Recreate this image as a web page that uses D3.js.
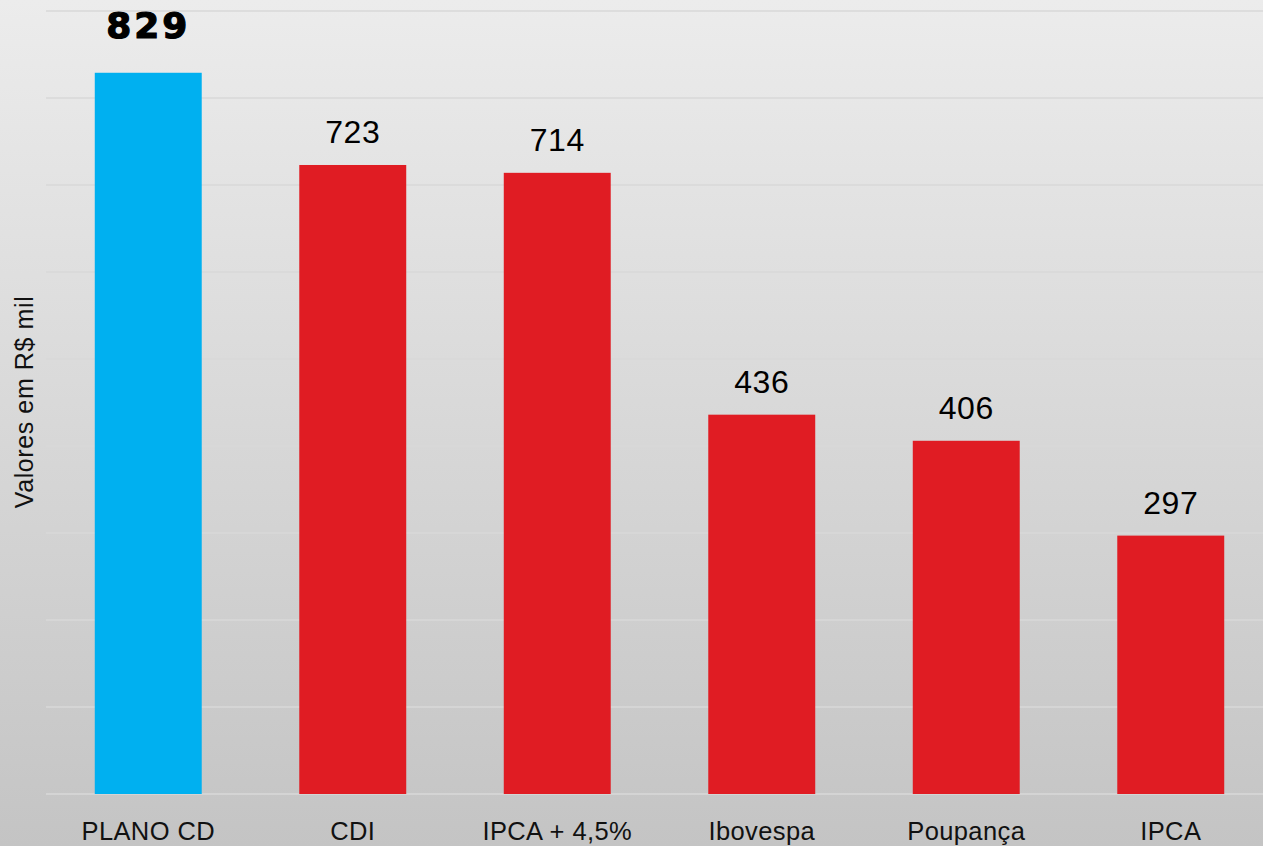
<!DOCTYPE html>
<html>
<head>
<meta charset="utf-8">
<script src="https://cdn.jsdelivr.net/npm/d3@7"></script>
<style>
  html, body { margin: 0; padding: 0; background: #e6e6e6; }
  svg { display: block; font-family: "Liberation Sans", Arial, sans-serif; }
</style>
</head>
<body>
<div id="chart"></div>
<script>
// data
var categories = ['PLANO CD', 'CDI', 'IPCA + 4,5%', 'Ibovespa', 'Poupança', 'IPCA'];
var values = [829, 723, 714, 436, 406, 297];
var highlight = ['PLANO CD'];
var yTicks = [0, 100, 200, 300, 400, 500, 600, 700, 800, 900];
var axisTitle = 'Valores em R$ mil';

var w = 1263,
    h = 846;

var margin = { top: 11, right: -10, bottom: 52, left: 46 };

var data = categories.map(function(c, i) {
    return { name: c, value: values[i] };
});

function isHighlight(d) {
    return highlight.indexOf(d.name) >= 0;
}

var svg = d3.select('#chart').append('svg')
    .attr('width', w)
    .attr('height', h);

// background gradient, light at the top and darker towards the bottom
var defs = svg.append('defs');
var grad = defs.append('linearGradient')
    .attr('id', 'bg')
    .attr('x1', 0).attr('y1', 0)
    .attr('x2', 0).attr('y2', 1);
grad.append('stop').attr('offset', '0%').attr('stop-color', '#ececec');
grad.append('stop').attr('offset', '100%').attr('stop-color', '#c4c4c4');

svg.append('rect')
    .attr('width', w)
    .attr('height', h)
    .attr('fill', 'url(#bg)');

// scales
var xScale = d3.scaleBand()
    .domain(categories)
    .range([margin.left, w - margin.right])
    .paddingInner(0.477)
    .paddingOuter(0.2385);

var yScale = d3.scaleLinear()
    .domain([0, 900])
    .range([h - margin.bottom, margin.top]);

// gridlines
svg.append('g')
    .attr('class', 'grid')
    .selectAll('line')
    .data(yTicks)
    .enter().append('line')
    .attr('x1', margin.left)
    .attr('x2', w)
    .attr('y1', function(d) { return yScale(d); })
    .attr('y2', function(d) { return yScale(d); })
    .attr('stroke', '#d8d8d8')
    .attr('stroke-width', 1.6);

// bars
svg.append('g')
    .selectAll('rect')
    .data(data)
    .enter().append('rect')
    .attr('x', function(d) { return xScale(d.name); })
    .attr('y', function(d) { return yScale(d.value); })
    .attr('width', xScale.bandwidth())
    .attr('height', function(d) { return yScale(0) - yScale(d.value); })
    .attr('fill', function(d) { return isHighlight(d) ? '#00b0f0' : '#e01c23'; });

// value labels
svg.append('g')
    .selectAll('text')
    .data(data)
    .enter().append('text')
    .attr('x', function(d) { return xScale(d.name) + xScale.bandwidth() / 2; })
    .attr('y', function(d) {
        return isHighlight(d) ? yScale(d.value) - 35 : yScale(d.value) - 22;
    })
    .attr('text-anchor', 'middle')
    .attr('fill', '#000')
    .attr('stroke', function(d) { return isHighlight(d) ? '#000' : 'none'; })
    .attr('stroke-width', 1.2)
    .style('font-family', function(d) {
        return isHighlight(d) ? '"DejaVu Sans", sans-serif' : null;
    })
    .style('font-size', function(d) { return isHighlight(d) ? '36px' : '32px'; })
    .style('font-weight', function(d) { return isHighlight(d) ? 'bold' : 'normal'; })
    .style('letter-spacing', function(d) { return isHighlight(d) ? '3px' : '0.5px'; })
    .text(function(d) { return d.value; });

// category axis
var xAxis = d3.axisBottom(xScale)
    .tickSize(0)
    .tickPadding(0);

var xg = svg.append('g')
    .attr('transform', 'translate(0,' + (h - 6) + ')')
    .call(xAxis);
xg.select('.domain').remove();
xg.selectAll('text')
    .attr('dy', 0)
    .attr('fill', '#111')
    .style('font-size', '25.5px')
    .style('letter-spacing', '0.4px');

// y axis title
svg.append('text')
    .attr('transform', 'translate(33,' + 402 + ') rotate(-90)')
    .attr('text-anchor', 'middle')
    .attr('fill', '#111')
    .style('font-size', '25px')
    .style('letter-spacing', '0.6px')
    .text(axisTitle);
</script>
</body>
</html>
